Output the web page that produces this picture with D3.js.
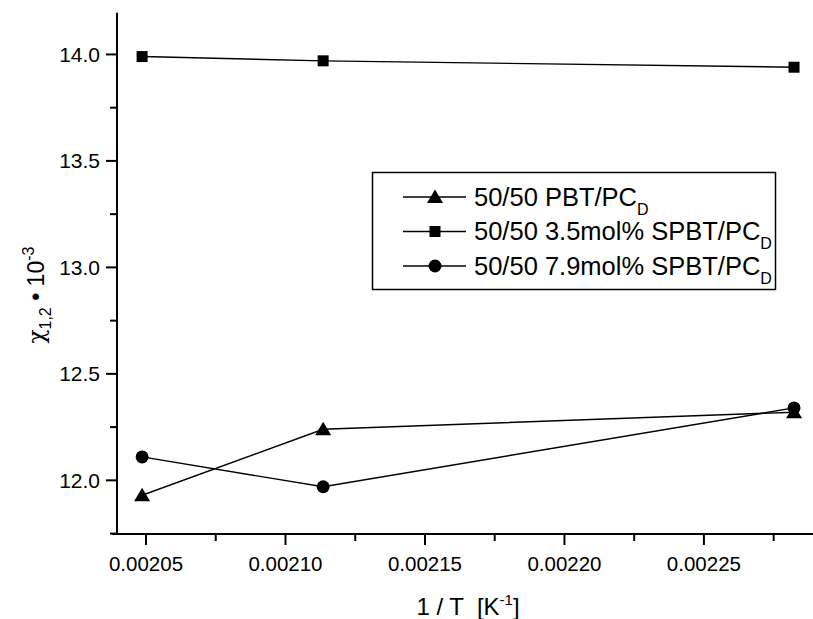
<!DOCTYPE html>
<html>
<head>
<meta charset="utf-8">
<script src="https://cdn.jsdelivr.net/npm/d3@7"></script>
<style>
  body { margin: 0; background: white; }
  text { font-family: "Liberation Sans", Arial, sans-serif; fill: black; white-space: pre; }
</style>
</head>
<body>
<script>
// 1/T values (K^-1)
var invT = [0.0020486, 0.0021135, 0.0022823];
var seriesNames = ["50/50 PBT/PC", "50/50 3.5mol% SPBT/PC", "50/50 7.9mol% SPBT/PC"];
var pbt = [11.93, 12.24, 12.32];
var spbt35 = [13.99, 13.97, 13.94];
var spbt79 = [12.11, 11.97, 12.34];
var symbols = ["triangle", "square", "circle"];
var xTickVals = [0.00205, 0.00210, 0.00215, 0.00220, 0.00225];
var yTickVals = [12.0, 12.5, 13.0, 13.5, 14.0];

var width = 813, height = 619;
var svg = d3.select("body").append("svg")
    .attr("width", width).attr("height", height);

var x = d3.scaleLinear().domain([0.0020396, 0.0022891]).range([117, 813]);
var y = d3.scaleLinear().domain([11.748, 14.196]).range([534, 12.7]);

var series = [pbt, spbt35, spbt79].map(function(vals, i) {
    return { name: seriesNames[i], symbol: symbols[i],
             pts: vals.map(function(v, j) { return { x: invT[j], y: v }; }) };
});

// minor ticks halfway between the majors
var xMinor = [];
for (var i = 0; i < 5; i++) xMinor.push(xTickVals[0] + 0.000025 + i * 0.00005);
var yMinor = [11.75, 12.25, 12.75, 13.25, 13.75];

// x axis
var xAxis = svg.append("g").attr("transform", "translate(0,534)");
xAxis.append("line").attr("x1", 112).attr("x2", 813)
    .attr("stroke", "black").attr("stroke-width", 2);
xAxis.selectAll(".major").data(xTickVals).enter().append("line")
    .attr("x1", function(d) { return x(d); }).attr("x2", function(d) { return x(d); })
    .attr("y1", 0).attr("y2", 11).attr("stroke", "black").attr("stroke-width", 2);
xAxis.selectAll(".minor").data(xMinor).enter().append("line")
    .attr("x1", function(d) { return x(d); }).attr("x2", function(d) { return x(d); })
    .attr("y1", 0).attr("y2", 7).attr("stroke", "black").attr("stroke-width", 2);
xAxis.selectAll(".lbl").data(xTickVals).enter().append("text")
    .attr("x", function(d) { return x(d); }).attr("y", 37)
    .attr("text-anchor", "middle").attr("font-size", 20.5)
    .text(function(d) { return d.toFixed(5); });

// y axis
var yAxis = svg.append("g").attr("transform", "translate(117,0)");
yAxis.append("line").attr("y1", 12.7).attr("y2", 535)
    .attr("stroke", "black").attr("stroke-width", 2);
yAxis.selectAll(".major").data(yTickVals).enter().append("line")
    .attr("y1", function(d) { return y(d); }).attr("y2", function(d) { return y(d); })
    .attr("x1", 0).attr("x2", -11).attr("stroke", "black").attr("stroke-width", 2);
yAxis.selectAll(".minor").data(yMinor).enter().append("line")
    .attr("y1", function(d) { return y(d); }).attr("y2", function(d) { return y(d); })
    .attr("x1", 0).attr("x2", -7).attr("stroke", "black").attr("stroke-width", 2);
yAxis.selectAll(".lbl").data(yTickVals).enter().append("text")
    .attr("x", -17).attr("y", function(d) { return y(d) + 7.5; })
    .attr("text-anchor", "end").attr("font-size", 21)
    .text(function(d) { return d.toFixed(1); });

// axis titles
var xt = svg.append("text").attr("x", 468).attr("y", 615)
    .attr("text-anchor", "middle").attr("font-size", 24);
xt.append("tspan").text("1 / T  [K");
xt.append("tspan").attr("dy", -10).attr("font-size", 15).text("-1");
xt.append("tspan").attr("dy", 10).text("]");

var yt = svg.append("text").attr("transform", "translate(44,295) rotate(-90)")
    .attr("text-anchor", "middle").attr("font-size", 23);
yt.append("tspan").attr("font-family", "DejaVu Serif, serif").text("\u03c7");
yt.append("tspan").attr("dy", 7).attr("font-size", 16).text("1,2");
yt.append("tspan").attr("dy", -7).text(" \u2022 10");
yt.append("tspan").attr("dy", -10).attr("font-size", 16).text("-3");

// data
var line = d3.line().x(function(d) { return x(d.x); }).y(function(d) { return y(d.y); });

function drawSymbol(g, type, cx, cy) {
    if (type === "square") {
        g.append("rect").attr("x", cx - 5.5).attr("y", cy - 5.5)
            .attr("width", 11).attr("height", 11).attr("fill", "black");
    } else if (type === "circle") {
        g.append("circle").attr("cx", cx).attr("cy", cy).attr("r", 6.5).attr("fill", "black");
    } else {
        g.append("path").attr("d", "M" + cx + "," + (cy - 7.5) + "L" + (cx + 8) + "," + (cy + 6)
            + "L" + (cx - 8) + "," + (cy + 6) + "Z").attr("fill", "black");
    }
}

series.forEach(function(s) {
    svg.append("path").datum(s.pts).attr("d", line)
        .attr("fill", "none").attr("stroke", "black").attr("stroke-width", 1.4);
    var g = svg.append("g");
    s.pts.forEach(function(p) { drawSymbol(g, s.symbol, x(p.x), y(p.y)); });
});

// legend
var leg = svg.append("g");
leg.append("rect").attr("x", 372.5).attr("y", 172.5).attr("width", 403).attr("height", 117)
    .attr("fill", "white").attr("stroke", "black").attr("stroke-width", 1.5);
series.forEach(function(s, i) {
    var ly = 197 + i * 34.5;
    leg.append("line").attr("x1", 403).attr("x2", 466).attr("y1", ly).attr("y2", ly)
        .attr("stroke", "black").attr("stroke-width", 1.3);
    drawSymbol(leg, s.symbol, 435, ly);
    var t = leg.append("text").attr("x", 474).attr("y", ly + 8.5).attr("font-size", 25.5);
    t.append("tspan").text(s.name);
    t.append("tspan").attr("dy", 9).attr("font-size", 16).text("D");
});
</script>
</body>
</html>
